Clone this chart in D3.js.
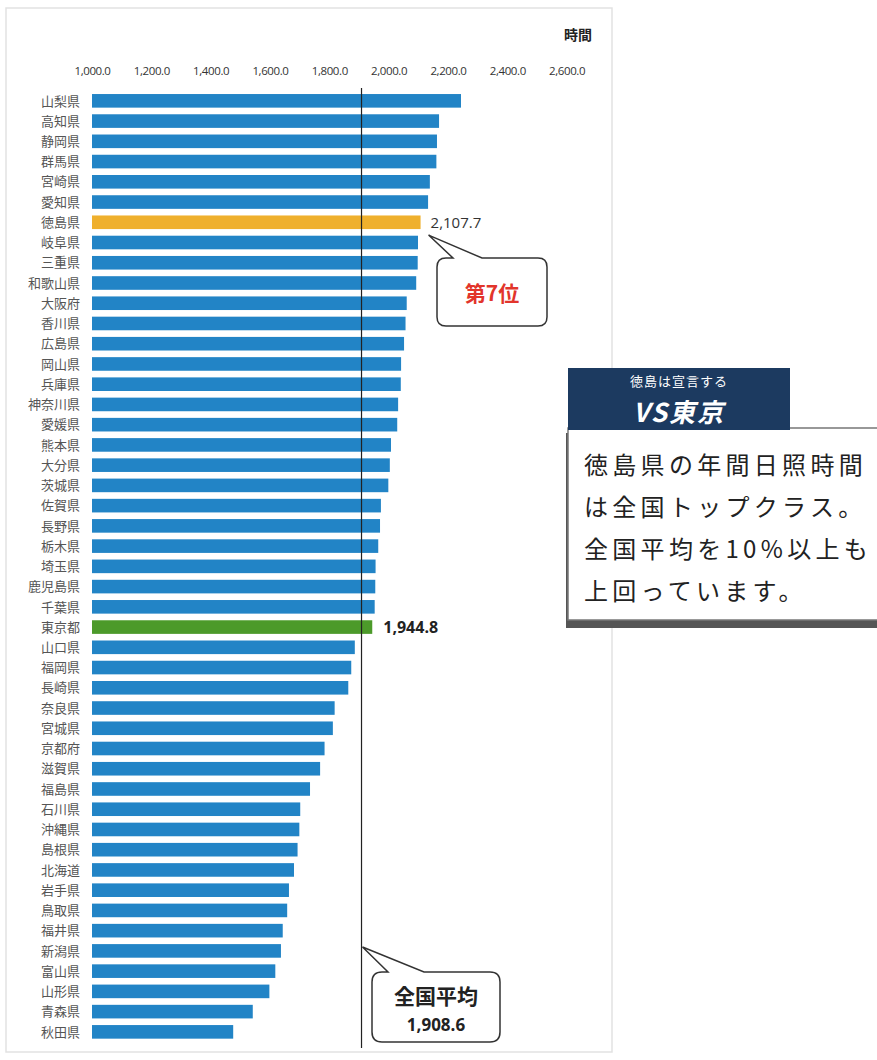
<!DOCTYPE html>
<html><head><meta charset="utf-8">
<script src="https://cdn.jsdelivr.net/npm/d3@7"></script>
<style>
html,body{margin:0;padding:0;background:#fff;}
svg{display:block;}
</style></head>
<body>
<svg id="c" width="877" height="1060"></svg>
<script>
const prefectures = ["山梨県","高知県","静岡県","群馬県","宮崎県","愛知県","徳島県","岐阜県","三重県","和歌山県","大阪府","香川県","広島県","岡山県","兵庫県","神奈川県","愛媛県","熊本県","大分県","茨城県","佐賀県","長野県","栃木県","埼玉県","鹿児島県","千葉県","東京都","山口県","福岡県","長崎県","奈良県","宮城県","京都府","滋賀県","福島県","石川県","沖縄県","島根県","北海道","岩手県","鳥取県","福井県","新潟県","富山県","山形県","青森県","秋田県"];
const hours = [2244,2170,2163,2161,2139,2133,2107.7,2099,2098,2093,2061,2057,2052,2042,2041,2032,2029,2008,2004,1999,1974,1971,1965,1956,1955,1953,1944.8,1886,1874,1864,1818,1812,1784,1769,1735,1702,1699,1693,1681,1664,1658,1643,1637,1618,1598,1542,1476];
const tickValues = [1000,1200,1400,1600,1800,2000,2200,2400,2600];
const nationalAverage = 1908.6;
const highlightTokushima = "徳島県";
const highlightTokyo = "東京都";
const unitLabel = "時間";
const rankLabel = "第7位";
const avgLabel = "全国平均";
const panelHeader1 = "徳島は宣言する";
const panelHeader2 = "VS東京";
const panelLines = ["徳島県の年間日照時間","は全国トップクラス。","全国平均を10%以上も","上回っています。"];

const svg = d3.select("#c");
const JP = "'Noto Sans CJK JP','Noto Sans',sans-serif";
const NUM = "'Open Sans','Liberation Sans',sans-serif";

// frame
svg.append("rect").attr("x",6).attr("y",8).attr("width",606).attr("height",1044)
  .attr("fill","none").attr("stroke","#e2e2e2").attr("stroke-width",1.5);

const x = d3.scaleLinear().domain([1000,2600]).range([92,566.6]);
const y = d3.scaleBand().domain(prefectures).range([87.4,1045.3]).padding(0.328);

// axis (top)
const fmt = d3.format(",.1f");
const ax = svg.append("g").attr("transform","translate(0,75)")
  .call(d3.axisTop(x).tickValues(tickValues).tickFormat(fmt).tickSize(0).tickPadding(0));
ax.select(".domain").remove();
ax.selectAll("text").attr("font-family",NUM).attr("font-size",11.5).attr("fill","#333").attr("letter-spacing","-0.4");

svg.append("text").attr("x",592).attr("y",40).attr("text-anchor","end")
  .attr("font-family",JP).attr("font-weight","bold").attr("font-size",14).attr("fill","#222").text(unitLabel);

// bars
const colorOf = d => d===highlightTokushima ? "#efb02d" : d===highlightTokyo ? "#4c9a2a" : "#2284c6";
svg.append("g").selectAll("rect").data(prefectures).join("rect")
  .attr("x",x(1000)).attr("y",d=>y(d)).attr("height",y.bandwidth())
  .attr("width",(d,i)=>x(hours[i])-x(1000)).attr("fill",colorOf);

// category labels
svg.append("g").selectAll("text").data(prefectures).join("text")
  .attr("x",80).attr("y",d=>y(d)+y.bandwidth()/2).attr("dy","0.36em")
  .attr("text-anchor","end").attr("font-family",JP).attr("font-size",13)
  .attr("fill","#555").text(d=>d);

// average line
const xa = x(nationalAverage);
svg.append("line").attr("x1",xa).attr("x2",xa).attr("y1",88).attr("y2",1048)
  .attr("stroke","#222").attr("stroke-width",1.2);

// value labels
const iT = prefectures.indexOf(highlightTokushima), iK = prefectures.indexOf(highlightTokyo);
svg.append("text").attr("x",x(hours[iT])+10).attr("y",y(highlightTokushima)+y.bandwidth()/2).attr("dy","0.36em")
  .attr("font-family",NUM).attr("font-size",15).attr("fill","#333").text(fmt(hours[iT]));
svg.append("text").attr("x",x(hours[iK])+11).attr("y",y(highlightTokyo)+y.bandwidth()/2).attr("dy","0.36em")
  .attr("font-family",NUM).attr("font-weight","bold").attr("font-size",16).attr("fill","#222").text(fmt(hours[iK]));

// speech bubble helper
function bubble(bx,by,bw,bh,r,tipX,tipY,t1,t2){
  const p = d3.path();
  p.moveTo(bx+r,by);
  p.lineTo(t1,by); p.lineTo(tipX,tipY); p.lineTo(t2,by);
  p.lineTo(bx+bw-r,by); p.quadraticCurveTo(bx+bw,by,bx+bw,by+r);
  p.lineTo(bx+bw,by+bh-r); p.quadraticCurveTo(bx+bw,by+bh,bx+bw-r,by+bh);
  p.lineTo(bx+r,by+bh); p.quadraticCurveTo(bx,by+bh,bx,by+bh-r);
  p.lineTo(bx,by+r); p.quadraticCurveTo(bx,by,bx+r,by);
  p.closePath();
  svg.append("path").attr("d",p.toString()).attr("fill","#fff").attr("stroke","#333").attr("stroke-width",1.5);
}
// Tokushima bubble
const tkY = y(highlightTokushima)+y.bandwidth()+2;
bubble(437,258,110,68,9, x(hours[iT])+8, tkY+4, 453, 482);
svg.append("text").attr("x",492).attr("y",293).attr("dy","0.36em").attr("text-anchor","middle")
  .attr("font-family",JP).attr("font-weight","bold").attr("font-size",21).attr("fill","#e2352b").text(rankLabel);

// average bubble
bubble(372,972,128,70,10, xa+1, 947, 388, 424);
svg.append("text").attr("x",436).attr("y",996).attr("dy","0.36em").attr("text-anchor","middle")
  .attr("font-family",JP).attr("font-weight","bold").attr("font-size",21).attr("fill","#222").text(avgLabel);
svg.append("text").attr("x",436).attr("y",1025).attr("dy","0.36em").attr("text-anchor","middle")
  .attr("font-family",NUM).attr("font-weight","bold").attr("font-size",17).attr("fill","#222").text(fmt(nationalAverage));

// right panel
const panel = svg.append("g");
panel.append("rect").attr("x",566).attr("y",433).attr("width",320).attr("height",195).attr("fill","#555");
panel.append("rect").attr("x",568).attr("y",428).attr("width",315).attr("height",192)
  .attr("fill","#fff").attr("stroke","#777").attr("stroke-width",1.5);
panel.append("rect").attr("x",568).attr("y",368).attr("width",222).attr("height",62).attr("fill","#1c3a60");
panel.append("text").attr("x",679).attr("y",381).attr("dy","0.36em").attr("text-anchor","middle")
  .attr("font-family",JP).attr("font-size",13).attr("letter-spacing","1").attr("fill","#fff").text(panelHeader1);
panel.append("text").attr("x",679).attr("y",413).attr("dy","0.36em").attr("text-anchor","middle")
  .attr("font-family",JP).attr("font-weight","bold").attr("font-style","italic").attr("font-size",26)
  .attr("letter-spacing","2").attr("fill","#fff").text(panelHeader2);
panel.selectAll("text.l").data(panelLines).join("text").attr("class","l")
  .attr("x",584).attr("y",(d,i)=>465+i*42).attr("dy","0.36em")
  .attr("font-family",JP).attr("font-size",24).attr("letter-spacing","4.3").attr("fill","#222").text(d=>d);
</script>
</body></html>
